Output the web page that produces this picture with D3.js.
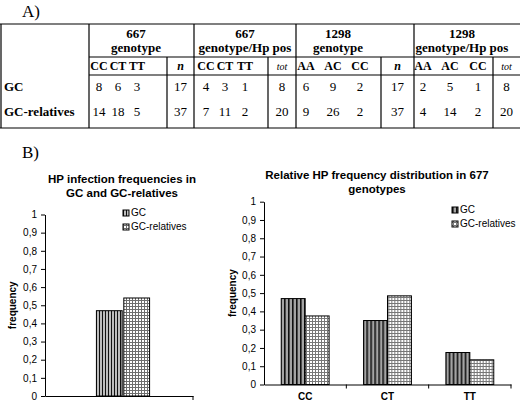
<!DOCTYPE html>
<html><head><meta charset="utf-8">
<script src="https://cdn.jsdelivr.net/npm/d3@7"></script>
<style>body{margin:0;background:#fff}svg{display:block}</style>
</head><body>
<svg id="c" width="520" height="400"></svg>
<script>
// ---------- table data ----------
const groupTitles = [["667","genotype"],["667","genotype/Hp pos"],["1298","genotype"],["1298","genotype/Hp pos"]];
const subLabels = [["CC","CT","TT"],["CC","CT","TT"],["AA","AC","CC"],["AA","AC","CC"]];
const totLabels = ["n","tot","n","tot"];
const rowLabels = ["GC","GC-relatives"];
const gcCounts = [[8,6,3],[4,3,1],[6,9,2],[2,5,1]];
const gcTotals = [17,8,17,8];
const relCounts = [[14,18,5],[7,11,2],[9,26,2],[4,14,2]];
const relTotals = [37,20,37,20];

// ---------- chart data ----------
const seriesNames = ["GC","GC-relatives"];
const infectionCats = ["all"];
const infectionGC = [0.47];
const infectionRel = [0.54];
const genotypeCats = ["CC","CT","TT"];
const distGC = [0.47, 0.35, 0.175];
const distRel = [0.375, 0.485, 0.135];
const yTickValues = [0,0.1,0.2,0.3,0.4,0.5,0.6,0.7,0.8,0.9,1];
const yTickLabels = ["0","0,1","0,2","0,3","0,4","0,5","0,6","0,7","0,8","0,9","1"];

// ---------- layout ----------
const svg = d3.select("#c");
const serif = "'Liberation Serif','Times New Roman',serif";
const sans = "'Liberation Sans',Arial,sans-serif";

const T = {top:24, hdrLine:57, subLine:75, bottom:128, left:1, right:520,
  y667:38, yGeno:52, ySub:70, yGC:91, yRel:116};
const groupEdges = [89,194,296,414,520];
const innerEdges = [167,268,381,493];
const colCenters = [[99,118,137],[206,225,245],[306,333,360],[423,450,478]];
const headerCenters = [136,245,338,462];

svg.append("text").attr("x",22).attr("y",17).attr("font-family",serif).attr("font-size",17).text("A)");

const tg = svg.append("g").attr("stroke","#000").attr("stroke-width",1.2).attr("fill","none");
tg.append("line").attr("x1",0).attr("x2",T.right).attr("y1",T.top).attr("y2",T.top);
tg.append("line").attr("x1",groupEdges[0]).attr("x2",T.right).attr("y1",T.hdrLine).attr("y2",T.hdrLine);
tg.append("line").attr("x1",groupEdges[0]).attr("x2",T.right).attr("y1",T.subLine).attr("y2",T.subLine);
tg.append("line").attr("x1",0).attr("x2",T.right).attr("y1",T.bottom).attr("y2",T.bottom);
tg.append("line").attr("x1",T.left).attr("x2",T.left).attr("y1",T.top).attr("y2",T.bottom);
groupEdges.slice(0,4).forEach(x=>tg.append("line").attr("x1",x).attr("x2",x).attr("y1",T.top).attr("y2",T.bottom));
innerEdges.forEach(x=>tg.append("line").attr("x1",x).attr("x2",x).attr("y1",T.hdrLine).attr("y2",T.bottom));

const txt = svg.append("g").attr("font-family",serif).attr("font-size",13).attr("fill","#000");
groupTitles.forEach((g,i)=>{
  txt.append("text").attr("x",headerCenters[i]).attr("y",T.y667).attr("text-anchor","middle").attr("font-weight","bold").text(g[0]);
  txt.append("text").attr("x",headerCenters[i]).attr("y",T.yGeno).attr("text-anchor","middle").attr("font-weight","bold").text(g[1]);
  const totC = (innerEdges[i]+groupEdges[i+1])/2;
  subLabels[i].forEach((s,j)=>txt.append("text").attr("x",colCenters[i][j]).attr("y",T.ySub).attr("text-anchor","middle")
    .attr("font-weight","bold").attr("font-size",12).text(s));
  txt.append("text").attr("x",totC).attr("y",T.ySub).attr("text-anchor","middle")
    .attr("font-style","italic").attr("font-weight",totLabels[i]==="n"?"bold":"normal")
    .attr("font-size",totLabels[i]==="n"?12:10).text(totLabels[i]);
  gcCounts[i].forEach((v,j)=>txt.append("text").attr("x",colCenters[i][j]).attr("y",T.yGC).attr("text-anchor","middle").text(v));
  relCounts[i].forEach((v,j)=>txt.append("text").attr("x",colCenters[i][j]).attr("y",T.yRel).attr("text-anchor","middle").text(v));
  txt.append("text").attr("x",totC).attr("y",T.yGC).attr("text-anchor","middle").text(gcTotals[i]);
  txt.append("text").attr("x",totC).attr("y",T.yRel).attr("text-anchor","middle").text(relTotals[i]);
});
txt.append("text").attr("x",4).attr("y",T.yGC).attr("font-weight","bold").text(rowLabels[0]);
txt.append("text").attr("x",4).attr("y",T.yRel).attr("font-weight","bold").text(rowLabels[1]);

svg.append("text").attr("x",22).attr("y",158).attr("font-family",serif).attr("font-size",17).text("B)");

// ---------- patterns ----------
const defs = svg.append("defs");
function stripe(id, w, bw, bg){
  const p = defs.append("pattern").attr("id",id).attr("patternUnits","userSpaceOnUse").attr("width",w).attr("height",4);
  p.append("rect").attr("width",w).attr("height",4).attr("fill",bg);
  p.append("rect").attr("width",bw).attr("height",4).attr("fill","#111");
}
stripe("stripeL",3,1,"#bdbdbd");
stripe("stripeR",4,1.6,"#a4a4a4");
function check(id, w, lc){
  const p = defs.append("pattern").attr("id",id).attr("patternUnits","userSpaceOnUse").attr("width",w).attr("height",w);
  p.append("rect").attr("width",w).attr("height",w).attr("fill","#fff");
  p.append("rect").attr("width",w).attr("height",1).attr("fill",lc);
  p.append("rect").attr("width",1).attr("height",w).attr("fill",lc);
}
check("checkL",3,"#6e6e6e");
check("checkR",3,"#777");

function yAxis(g, y){
  g.call(d3.axisLeft(y).tickValues(yTickValues).tickSize(4).tickSizeOuter(0)
    .tickFormat((d,i)=>yTickLabels[i]));
  g.selectAll("text").attr("font-family",sans).attr("font-size",10).attr("fill","#000").attr("dx","-1");
  g.selectAll("line,path").attr("stroke","#000");
}

function chart(o){
  const g = svg.append("g");
  const y = d3.scaleLinear().domain([0,1]).range([o.y0,o.y1]);
  const x0 = d3.scaleBand().domain(o.cats).range([o.xL,o.xR]).padding(0);
  const x1 = d3.scaleBand().domain(seriesNames).range([o.shift, x0.bandwidth()+o.shift])
    .paddingInner(o.pin).paddingOuter(o.pout);
  const data = o.cats.map((c,i)=>({c, vals:[o.a[i], o.b[i]]}));
  const grp = g.selectAll("g.cat").data(data).join("g").attr("transform",d=>`translate(${x0(d.c)},0)`);
  grp.selectAll("rect").data(d=>d.vals.map((v,k)=>({k,v}))).join("rect")
    .attr("x",d=>x1(seriesNames[d.k])).attr("width",x1.bandwidth())
    .attr("y",d=>y(d.v)).attr("height",d=>y(0)-y(d.v))
    .attr("fill",d=>`url(#${o.pat[d.k]})`).attr("stroke","#000").attr("stroke-width",1);
  const ya = g.append("g").attr("transform",`translate(${o.xL},0)`); yAxis(ya,y);
  const xa = g.append("g").attr("transform",`translate(0,${o.y0})`);
  xa.call(d3.axisBottom(x0).tickSize(0).tickPadding(o.labPad).tickSizeOuter(0));
  xa.selectAll("path").attr("stroke","#000");
  xa.selectAll("text").attr("font-family",sans).attr("font-size",10).attr("font-weight","bold").attr("fill","#000")
    .text(d=>o.showCat?d:"");
  const bounds = o.cats.map(c=>x0(c)+x0.bandwidth());
  xa.selectAll("line.b").data(bounds).join("line").attr("class","b")
    .attr("x1",d=>d).attr("x2",d=>d).attr("y1",0).attr("y2",4).attr("stroke","#000");
  o.title.forEach((t,i)=>g.append("text").attr("x",o.tx).attr("y",o.ty+i*14).attr("text-anchor","middle")
    .attr("font-family",sans).attr("font-weight","bold").attr("font-size",11.5).text(t));
  g.append("text").attr("transform",`translate(${o.fx},${(o.y0+o.y1)/2}) rotate(-90)`).attr("text-anchor","middle")
    .attr("font-family",sans).attr("font-weight","bold").attr("font-size",10).text("frequency");
  seriesNames.forEach((s,i)=>{
    g.append("rect").attr("x",o.lx).attr("y",o.ly+i*14-6).attr("width",6).attr("height",6)
      .attr("fill",`url(#${o.pat[i]})`).attr("stroke","#000").attr("stroke-width",1);
    g.append("text").attr("x",o.lx+8).attr("y",o.ly+i*14).attr("font-family",sans).attr("font-size",10).text(s);
  });
}

chart({cats:infectionCats, a:infectionGC, b:infectionRel, xL:45, xR:193, y0:396, y1:214.5,
  shift:4, pin:0.06, pout:1.73, pat:["stripeL","checkL"], showCat:false, labPad:6,
  title:["HP infection frequencies in","GC and GC-relatives"], tx:122, ty:183, fx:16,
  lx:123, ly:216});

chart({cats:genotypeCats, a:distGC, b:distRel, xL:264, xR:511, y0:384.5, y1:201.7,
  shift:0, pin:0, pout:0.72, pat:["stripeR","checkR"], showCat:true, labPad:8,
  title:["Relative HP frequency distribution in 677","genotypes"], tx:377, ty:179, fx:236,
  lx:452, ly:213});
</script>
</body></html>
